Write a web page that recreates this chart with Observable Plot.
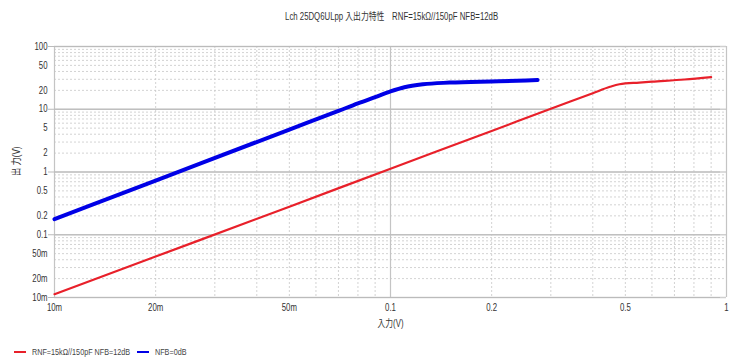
<!DOCTYPE html>
<html>
<head>
<meta charset="utf-8">
<script src="https://cdn.jsdelivr.net/npm/d3@7"></script>
<script src="https://cdn.jsdelivr.net/npm/@observablehq/plot@0.6"></script>
<style>
  html, body { margin: 0; padding: 0; background: #fff; }
  #wrap { position: relative; width: 738px; height: 360px; overflow: hidden;
    font-family: "Liberation Sans", "Noto Sans CJK JP", sans-serif; color: #333; }
  #title { position: absolute; top: 8px; left: 0; width: 784px; text-align: center; font-size: 10px; color: #333; }
  #title span { display: inline-block; transform: scaleX(0.78); transform-origin: center; white-space: pre; }
  #legend { position: absolute; top: 346px; left: 14px; font-size: 9.5px; color: #444; display: flex; align-items: center; }
  .sw { display: inline-block; width: 12px; height: 2px; margin-right: 6px; }
  .item { display: flex; align-items: center; }
  .lt { display: inline-block; transform: scaleX(0.76); transform-origin: left center; white-space: pre; }
  svg text { font-family: "Liberation Sans", "Noto Sans CJK JP", sans-serif; }
</style>
</head>
<body>
<div id="wrap">
  <div id="title"><span></span></div>
  <div id="chart"></div>
  <div id="legend"></div>
</div>
<script>
const titleText = "Lch 25DQ6ULpp 入出力特性　RNF=15kΩ//150pF NFB=12dB";
const seriesNames = ["RNF=15kΩ//150pF NFB=12dB", "NFB=0dB"];
const seriesColors = ["#e8202a", "#0000e6"];

const redIn  = [0.01, 0.02, 0.05, 0.1, 0.2, 0.3, 0.4, 0.45, 0.48, 0.55, 0.6, 0.75, 0.9];
const redOut = [0.0113, 0.045, 0.28, 1.13, 4.5, 10.2, 18, 22.8, 25, 26.6, 27.5, 29.8, 32.6];

const blueIn  = [0.01, 0.02, 0.05, 0.07, 0.08, 0.09, 0.1, 0.11, 0.125, 0.15, 0.21, 0.274];
const blueOut = [0.177, 0.73, 4.75, 9.4, 12.4, 15.6, 19.2, 22.4, 25, 26.6, 27.9, 29.2];

const xTicks = [0.01, 0.02, 0.05, 0.1, 0.2, 0.5, 1];
const xTickLabels = ["10m", "20m", "50m", "0.1", "0.2", "0.5", "1"];
const yTicks = [100, 50, 20, 10, 5, 2, 1, 0.5, 0.2, 0.1, 0.05, 0.02, 0.01];
const yTickLabels = ["100", "50", "20", "10", "5", "2", "1", "0.5", "0.2", "0.1", "50m", "20m", "10m"];
const yMajor = [100, 10, 1, 0.1, 0.01];
const xMajor = [0.01, 0.1, 1];
const yMinor = [0.02,0.03,0.04,0.05,0.06,0.07,0.08,0.09, 0.2,0.3,0.4,0.5,0.6,0.7,0.8,0.9, 2,3,4,5,6,7,8,9, 20,30,40,50,60,70,80,90];
const xMinor = [0.02,0.03,0.04,0.05,0.06,0.07,0.08,0.09, 0.2,0.3,0.4,0.5,0.6,0.7,0.8,0.9];
const xTitle = "入力(V)";
const yTitle = "出 力(V)";

const red = redIn.map((x, i) => ({x, y: redOut[i]}));
const blue = blueIn.map((x, i) => ({x, y: blueOut[i]}));
const yLabelData = yTicks.map((t, i) => ({t, s: yTickLabels[i]}));
const xLabelData = xTicks.map((t, i) => ({t, s: xTickLabels[i]}));

document.querySelector("#title span").textContent = titleText;
const lg = document.getElementById("legend");
seriesNames.forEach((n, i) => {
  const it = document.createElement("span"); it.className = "item";
  const sw = document.createElement("span"); sw.className = "sw"; sw.style.background = seriesColors[i];
  const tx = document.createElement("span"); tx.className = "lt"; tx.textContent = n;
  it.appendChild(sw); it.appendChild(tx); lg.appendChild(it);
  it.style.marginRight = (i === 0 ? "-24px" : "0");
});

const chart = Plot.plot({
  width: 738, height: 360,
  marginLeft: 54, marginRight: 12, marginTop: 46, marginBottom: 63,
  style: {fontSize: "10px", color: "#333", background: "transparent"},
  x: {type: "log", domain: [0.01, 1], axis: null},
  y: {type: "log", domain: [0.01, 100], axis: null},
  marks: [
    Plot.ruleY(yMinor, {stroke: "#c8c8c8", strokeDasharray: "2,2", strokeWidth: 0.8}),
    Plot.ruleX(xMinor, {stroke: "#c8c8c8", strokeDasharray: "2,2", strokeWidth: 0.8}),
    Plot.ruleY(yMajor, {stroke: "#cfcfcf", strokeWidth: 1.5}),
    Plot.ruleX(xMajor, {stroke: "#c4c4c4", strokeWidth: 1.2}),
    Plot.tickY(yMajor, {y: d => d, frameAnchor: "left", dx: -6, stroke: "#bbb"}),
    Plot.text(yLabelData, {y: "t", text: "s", frameAnchor: "left", textAnchor: "end", dx: -7, fill: "#333", fontSize: 10}),
    Plot.text(xLabelData, {x: "t", text: "s", frameAnchor: "bottom", dy: 13, fill: "#333", fontSize: 10}),
    Plot.text([xTitle], {frameAnchor: "bottom", dy: 29, fontSize: 10, fill: "#333"}),
    Plot.text([yTitle], {frameAnchor: "left", dx: -38, dy: 4, rotate: -90, fontSize: 10.5, fill: "#333"}),
    Plot.line(red, {x: "x", y: "y", stroke: seriesColors[0], strokeWidth: 2.2, curve: "monotone-x"}),
    Plot.line(blue, {x: "x", y: "y", stroke: seriesColors[1], strokeWidth: 4, curve: "monotone-x"})
  ]
});
document.getElementById("chart").appendChild(chart);

// condense text horizontally to mimic the narrow font of the reference
d3.select(chart).selectAll("text").each(function() {
  const L = this.getComputedTextLength();
  if (L > 0) {
    this.setAttribute("textLength", (L * 0.78).toFixed(2));
    this.setAttribute("lengthAdjust", "spacingAndGlyphs");
  }
});
</script>
</body>
</html>
